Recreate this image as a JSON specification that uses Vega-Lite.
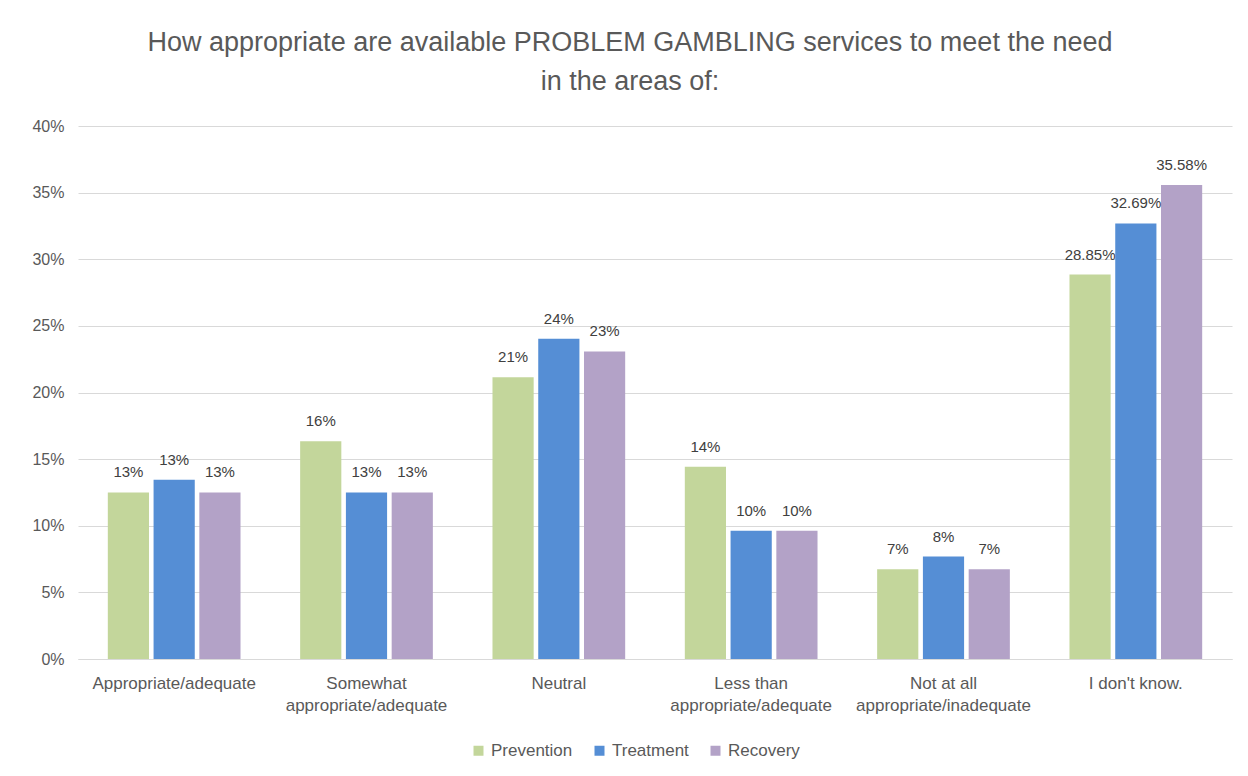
{
  "$schema": "https://vega.github.io/schema/vega-lite/v6.json",
  "autosize": {"type": "none"},
  "width": 1154,
  "height": 533,
  "padding": {"left": 78, "top": 126, "right": 16, "bottom": 117},
  "background": "white",
  "title": {
    "text": ["How appropriate are available PROBLEM GAMBLING services to meet the need", "in the areas of:"],
    "font": "Liberation Sans",
    "fontSize": 27,
    "fontWeight": "normal",
    "color": "#595959",
    "anchor": "middle",
    "dx": -25,
    "offset": 22,
    "lineHeight": 39
  },
  "data": {
    "values": [
      {"category": "Appropriate/adequate", "series": "Prevention", "value": 0.125, "label": "13%"},
      {"category": "Appropriate/adequate", "series": "Treatment", "value": 0.1346, "label": "13%"},
      {"category": "Appropriate/adequate", "series": "Recovery", "value": 0.125, "label": "13%"},
      {"category": "Somewhat|appropriate/adequate", "series": "Prevention", "value": 0.1635, "label": "16%"},
      {"category": "Somewhat|appropriate/adequate", "series": "Treatment", "value": 0.125, "label": "13%"},
      {"category": "Somewhat|appropriate/adequate", "series": "Recovery", "value": 0.125, "label": "13%"},
      {"category": "Neutral", "series": "Prevention", "value": 0.2115, "label": "21%"},
      {"category": "Neutral", "series": "Treatment", "value": 0.2404, "label": "24%"},
      {"category": "Neutral", "series": "Recovery", "value": 0.2308, "label": "23%"},
      {"category": "Less than|appropriate/adequate", "series": "Prevention", "value": 0.1442, "label": "14%"},
      {"category": "Less than|appropriate/adequate", "series": "Treatment", "value": 0.0962, "label": "10%"},
      {"category": "Less than|appropriate/adequate", "series": "Recovery", "value": 0.0962, "label": "10%"},
      {"category": "Not at all|appropriate/inadequate", "series": "Prevention", "value": 0.0673, "label": "7%"},
      {"category": "Not at all|appropriate/inadequate", "series": "Treatment", "value": 0.0769, "label": "8%"},
      {"category": "Not at all|appropriate/inadequate", "series": "Recovery", "value": 0.0673, "label": "7%"},
      {"category": "I don't know.", "series": "Prevention", "value": 0.2885, "label": "28.85%"},
      {"category": "I don't know.", "series": "Treatment", "value": 0.3269, "label": "32.69%"},
      {"category": "I don't know.", "series": "Recovery", "value": 0.3558, "label": "35.58%"}
    ]
  },
  "encoding": {
    "x": {
      "field": "category",
      "type": "nominal",
      "sort": null,
      "scale": {"paddingInner": 0.31, "paddingOuter": 0.155},
      "axis": {
        "title": null,
        "labelAngle": 0,
        "labelExpr": "split(datum.value, '|')",
        "labelFont": "Liberation Sans",
        "labelFontSize": 17,
        "labelColor": "#595959",
        "labelPadding": 16,
        "labelLineHeight": 22,
        "labelOverlap": false,
        "ticks": false,
        "domainColor": "#d9d9d9",
        "grid": false
      }
    },
    "xOffset": {
      "field": "series",
      "type": "nominal",
      "sort": ["Prevention", "Treatment", "Recovery"],
      "scale": {"paddingInner": 0.1}
    },
    "y": {
      "field": "value",
      "type": "quantitative",
      "scale": {"domain": [0, 0.4]},
      "axis": {
        "title": null,
        "format": ".0%",
        "values": [0, 0.05, 0.1, 0.15, 0.2, 0.25, 0.3, 0.35, 0.4],
        "labelOverlap": false,
        "labelFont": "Liberation Sans",
        "labelFontSize": 16,
        "labelColor": "#595959",
        "labelPadding": 14,
        "ticks": false,
        "domain": false,
        "gridColor": "#d9d9d9",
        "gridWidth": 1
      }
    },
    "color": {
      "field": "series",
      "type": "nominal",
      "sort": ["Prevention", "Treatment", "Recovery"],
      "scale": {"domain": ["Prevention", "Treatment", "Recovery"], "range": ["#c3d69b", "#558ed5", "#b3a2c7"]},
      "legend": {
        "title": null,
        "orient": "none",
        "legendX": 392,
        "legendY": 616,
        "direction": "horizontal",
        "symbolType": "square",
        "symbolSize": 100,
        "symbolStrokeWidth": 0,
        "labelFont": "Liberation Sans",
        "labelFontSize": 17,
        "labelColor": "#595959",
        "columnPadding": 18,
        "labelOffset": 4
      }
    }
  },
  "layer": [
    {"mark": {"type": "bar"}},
    {
      "mark": {"type": "text", "dy": -20, "font": "Liberation Sans", "fontSize": 15, "color": "#404040"},
      "encoding": {"text": {"field": "label"}, "color": {"value": "#404040"}}
    }
  ],
  "config": {"view": {"stroke": null}}
}
